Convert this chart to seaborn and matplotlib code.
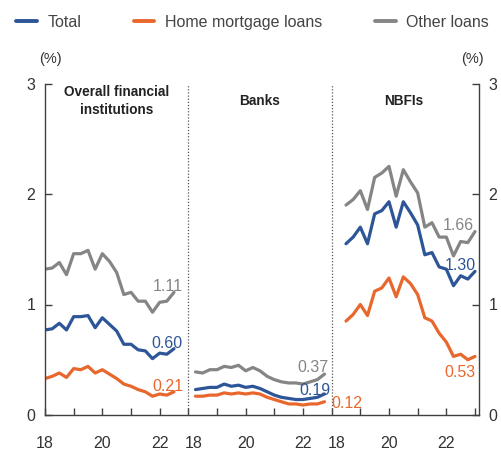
import numpy as np
import pandas as pd
import matplotlib
matplotlib.use("Agg")
import matplotlib.pyplot as plt
from matplotlib import font_manager
from matplotlib.lines import Line2D
import matplotlib.transforms as mtransforms
import seaborn as sns

# ---- data: quarterly delinquency-type ratios (%) ----
panels = ["Overall financial\ninstitutions", "Banks", "NBFIs"]
series_names = ["Total", "Home mortgage loans", "Other loans"]

overall_total = [0.77, 0.78, 0.83, 0.77, 0.89, 0.89, 0.90, 0.79, 0.88, 0.82, 0.76,
                 0.64, 0.64, 0.59, 0.58, 0.51, 0.56, 0.55, 0.60]
overall_mortgage = [0.33, 0.35, 0.38, 0.34, 0.42, 0.41, 0.44, 0.38, 0.41, 0.37, 0.33,
                    0.28, 0.26, 0.23, 0.21, 0.17, 0.19, 0.18, 0.21]
overall_other = [1.32, 1.33, 1.38, 1.27, 1.46, 1.46, 1.49, 1.32, 1.46, 1.39, 1.29,
                 1.09, 1.11, 1.03, 1.03, 0.93, 1.02, 1.03, 1.11]

banks_total = [0.23, 0.24, 0.25, 0.25, 0.28, 0.26, 0.27, 0.25, 0.26, 0.24, 0.21,
               0.18, 0.16, 0.15, 0.14, 0.14, 0.15, 0.16, 0.19]
banks_mortgage = [0.17, 0.17, 0.18, 0.18, 0.20, 0.19, 0.20, 0.19, 0.20, 0.19, 0.16,
                  0.14, 0.12, 0.10, 0.10, 0.09, 0.10, 0.10, 0.12]
banks_other = [0.39, 0.38, 0.41, 0.41, 0.44, 0.43, 0.45, 0.40, 0.43, 0.40, 0.35,
               0.32, 0.30, 0.29, 0.29, 0.28, 0.30, 0.32, 0.37]

nbfi_total = [1.55, 1.61, 1.70, 1.55, 1.82, 1.85, 1.93, 1.70, 1.93, 1.83, 1.72,
              1.45, 1.47, 1.34, 1.32, 1.17, 1.26, 1.23, 1.30]
nbfi_mortgage = [0.85, 0.91, 1.00, 0.90, 1.12, 1.15, 1.24, 1.07, 1.25, 1.19, 1.09,
                 0.88, 0.85, 0.74, 0.66, 0.53, 0.55, 0.50, 0.53]
nbfi_other = [1.90, 1.95, 2.03, 1.86, 2.15, 2.19, 2.25, 1.98, 2.22, 2.11, 2.01,
              1.70, 1.74, 1.61, 1.61, 1.44, 1.57, 1.56, 1.66]

year_ticks = ["18", "20", "22"]

values = {
    (0, "Total"): overall_total, (0, "Home mortgage loans"): overall_mortgage,
    (0, "Other loans"): overall_other,
    (1, "Total"): banks_total, (1, "Home mortgage loans"): banks_mortgage,
    (1, "Other loans"): banks_other,
    (2, "Total"): nbfi_total, (2, "Home mortgage loans"): nbfi_mortgage,
    (2, "Other loans"): nbfi_other,
}

# each panel spans five years on a shared axis; series start points per panel
panel_width = 5.0
panel_start = [0.0, 5.25, 10.5]
step = 0.25

rows = []
for (p, s), vals in values.items():
    for i, v in enumerate(vals):
        rows.append({"x": panel_start[p] + i * step, "value": v,
                     "series": s, "panel": p})
df = pd.DataFrame(rows)

# ---- style ----
sns.set_theme(style="ticks")
available = {f.name for f in font_manager.fontManager.ttflist}
narrow = "Liberation Sans Narrow" if "Liberation Sans Narrow" in available else "Liberation Sans"
plt.rcParams["font.family"] = ["Liberation Sans", "DejaVu Sans"]

colors = {"Total": "#2d5597", "Home mortgage loans": "#e8672c", "Other loans": "#858585"}
axis_color = "#404040"
text_color = "#333333"

fig = plt.figure(figsize=(5.02, 4.55), dpi=100)
W, H = 502, 455
ax = fig.add_axes([45 / W, 1 - 415 / H, (479 - 45) / W, (415 - 83.5) / H])

sns.lineplot(data=df, x="x", y="value", hue="series", units="panel",
             estimator=None, palette=colors, hue_order=series_names,
             linewidth=2.3, legend=False, ax=ax)

ax.set_xlim(0, 15.14)
ax.set_ylim(0, 3)
ax.set_xlabel("")
ax.set_ylabel("")

# panel separators
for b in (panel_width, 2 * panel_width):
    ax.axvline(b, color="#555555", lw=0.9, ls=(0, (1, 1.5)), zorder=1)

# spines
ax.spines["top"].set_visible(False)
for side in ("left", "right", "bottom"):
    ax.spines[side].set_color(axis_color)
    ax.spines[side].set_linewidth(1.0)

# y axis on both sides
ax.set_yticks([0, 1, 2, 3])
ax.set_yticklabels(["0", "1", "2", "3"])
ax.tick_params(axis="y", which="both", direction="in", length=5, width=1.0,
               color=axis_color, left=True, right=True, labelleft=True,
               labelright=True, labelsize=11.5, labelcolor=text_color, pad=7)

# x axis: yearly ticks in every panel, labels every two years
ax.set_xticks(np.arange(0, 16))
xlabels = []
for k in range(16):
    yr = k % 5
    if k < 15 and yr in (0, 2, 4):
        xlabels.append(year_ticks[yr // 2])
    else:
        xlabels.append("")
ax.set_xticklabels(xlabels)
ax.tick_params(axis="x", direction="in", length=5, width=1.0, color=axis_color,
               labelsize=11.5, labelcolor=text_color, pad=15)
for k, lab in enumerate(ax.get_xticklabels()):
    lab.set_fontfamily([narrow, "Liberation Sans"])
    if k in (5, 10):
        lab.set_transform(lab.get_transform() +
                          mtransforms.ScaledTranslation(5 / 100, 0, fig.dpi_scale_trans))

for t in ax.yaxis.get_major_ticks():
    t.label2.set_fontfamily([narrow, "Liberation Sans"])
    t.label1.set_fontfamily([narrow, "Liberation Sans"])

# panel titles
for p, title in enumerate(panels):
    ax.text(p * panel_width + 2.5, 2.84, title, ha="center", va="center",
            fontsize=9.8, fontweight="bold", color="#222222",
            family=[narrow, "Liberation Sans"], linespacing=1.35)

# end-of-series value labels: (ha, dx px, dy px)
label_style = {
    (0, "Other loans"): ("right", 9, 1),
    (0, "Total"): ("right", 9, 1),
    (0, "Home mortgage loans"): ("right", 9, 1),
    (1, "Other loans"): ("right", 4, 2),
    (1, "Total"): ("right", 6, -1),
    (1, "Home mortgage loans"): ("left", 7, -6),
    (2, "Other loans"): ("right", -1, 2),
    (2, "Total"): ("right", 1, 1),
    (2, "Home mortgage loans"): ("right", 1, -21),
}
for (p, s), vals in values.items():
    ha, dx, dy = label_style[(p, s)]
    x_end = panel_start[p] + (len(vals) - 1) * step
    ax.annotate(f"{vals[-1]:.2f}", xy=(x_end, vals[-1]), xytext=(dx, dy),
                textcoords="offset pixels", ha=ha, va="baseline",
                fontsize=11.5, color=colors[s], family=[narrow, "Liberation Sans"])

# unit labels
fig.text(50 / W, 1 - 58.5 / H, "(%)", ha="center", va="center", fontsize=10.5,
         color=text_color)
fig.text(472 / W, 1 - 58.5 / H, "(%)", ha="center", va="center", fontsize=10.5,
         color=text_color)

# legend
handles = [Line2D([], [], color=colors[s], lw=2.8) for s in series_names]
fig.legend(handles, series_names, loc="center left", bbox_to_anchor=(16 / W, 1 - 22.5 / H),
           ncol=3, frameon=False, fontsize=11.5, handlelength=1.3,
           handletextpad=0.65, columnspacing=3.3, labelcolor="#444444",
           borderaxespad=0, borderpad=0)

fig.savefig("out.png", dpi=100)
